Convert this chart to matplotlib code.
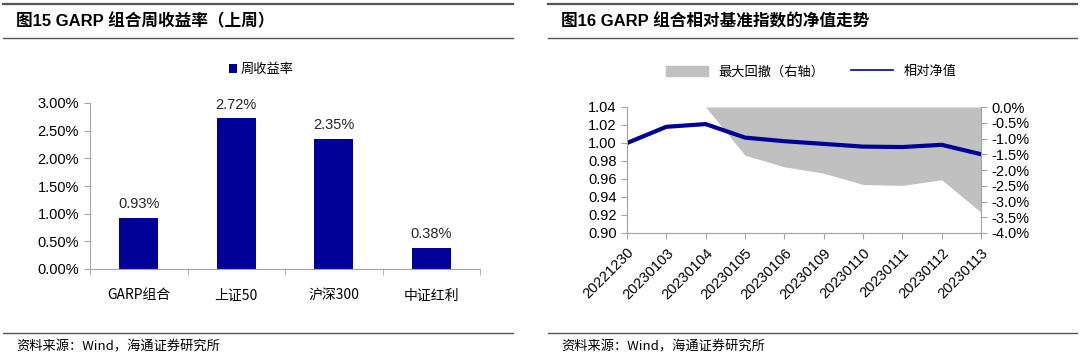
import numpy as np
import matplotlib
matplotlib.use('Agg')
from matplotlib import pyplot as plt
from matplotlib.lines import Line2D
from matplotlib.patches import Patch
from matplotlib.ticker import FuncFormatter

plt.rcParams['font.family'] = ['Liberation Sans', 'Noto Sans CJK SC', 'DejaVu Sans']
CJK = ['Noto Sans CJK SC', 'DejaVu Sans']

# left chart: weekly returns
bar_cats = ['GARP组合', '上证50', '沪深300', '中证红利']
bar_vals = [0.93, 2.72, 2.35, 0.38]

# right chart: relative NAV + max drawdown
dates = ['20221230', '20230103', '20230104', '20230105', '20230106',
         '20230109', '20230110', '20230111', '20230112', '20230113']
nav = [1.000, 1.018, 1.021, 1.006, 1.002, 0.999, 0.996, 0.9955, 0.998, 0.9875]
drawdown = [0.0, 0.0, 0.0, -1.53, -1.90, -2.10, -2.46, -2.49, -2.31, -3.34]

BLUE = '#000099'
GRAY = '#c0c0c0'
AX_GRAY = '#a6a6a6'

fig = plt.figure(figsize=(10.8, 3.6), dpi=100)


def frame(x0, x1, title):
    # header / footer rules and texts for one panel
    for y, lw in [(356 / 360, 1.6), (322 / 360, 1.0), (27 / 360, 1.0)]:
        fig.add_artist(Line2D([x0, x1], [y, y], color='#555555', lw=lw))
    fig.text(x0 + 0.012, 339 / 360, title, fontsize=12, fontweight='bold',
             va='center', ha='left', family=['Liberation Sans', 'Noto Sans CJK SC'])
    fig.text(x0 + 0.012, 13 / 360, '资料来源：Wind，海通证券研究所', fontsize=9.5,
             va='center', ha='left', family=CJK)


frame(3 / 1080, 513 / 1080, '图15 GARP 组合周收益率（上周）')
frame(548 / 1080, 1077 / 1080, '图16 GARP 组合相对基准指数的净值走势')

# ---- left: bar chart
ax1 = fig.add_axes([90 / 1080, 91 / 360, 390 / 1080, 166 / 360])
x = np.arange(len(bar_cats))
bars = ax1.bar(x, bar_vals, width=0.4, color=BLUE, label='周收益率')
for xi, v in zip(x, bar_vals):
    ax1.text(xi, v + 0.12, f'{v:.2f}%', ha='center', va='bottom', fontsize=10.5, color='#262626')
ax1.set_xlim(-0.5, len(bar_cats) - 0.5)
ax1.set_ylim(0, 3.0)
ax1.set_yticks(np.arange(0, 3.01, 0.5))
ax1.yaxis.set_major_formatter(FuncFormatter(lambda v, p: f'{v:.2f}%'))
ax1.set_xticks(x)
ax1.set_xticklabels(bar_cats, family=CJK)
ax1.set_xticks(np.arange(-0.5, len(bar_cats)), minor=True)
ax1.tick_params(axis='x', which='major', length=0, pad=14, labelsize=10)
ax1.tick_params(axis='x', which='minor', length=4, color=AX_GRAY)
ax1.tick_params(axis='y', length=4, color=AX_GRAY, labelsize=10.5, pad=4)
for s in ['top', 'right']:
    ax1.spines[s].set_visible(False)
for s in ['left', 'bottom']:
    ax1.spines[s].set_color(AX_GRAY)
leg1 = ax1.legend(loc='center', bbox_to_anchor=(0.44, 1.2), frameon=False,
                  handlelength=0.6, handleheight=0.6, handletextpad=0.3,
                  prop={'family': CJK, 'size': 9.5})

# ---- right: NAV line + drawdown area
ax2 = fig.add_axes([627 / 1080, 127 / 360, 354 / 1080, 126 / 360])
ax3 = ax2.twinx()
xi = np.arange(len(dates))
ax3.fill_between(xi, drawdown, 0, color=GRAY, lw=0)
ax3.set_ylim(-4.0, 0.0)
ax3.set_yticks(np.arange(-4.0, 0.01, 0.5))
ax3.yaxis.set_major_formatter(FuncFormatter(lambda v, p: f'{v:.1f}%'))
ax2.set_zorder(ax3.get_zorder() + 1)
ax2.patch.set_visible(False)
ax2.plot(xi, nav, color=BLUE, lw=3)
ax2.set_ylim(0.90, 1.04)
ax2.set_yticks(np.arange(0.90, 1.041, 0.02))
ax2.yaxis.set_major_formatter(FuncFormatter(lambda v, p: f'{v:.2f}'))
ax2.set_xlim(0, len(dates) - 1)
ax2.set_xticks(xi)
ax2.set_xticklabels(dates, rotation=45, ha='right', rotation_mode='anchor', fontsize=10.5)
ax2.tick_params(axis='x', length=4, color=AX_GRAY, pad=5)
ax2.tick_params(axis='y', length=4, color=AX_GRAY, labelsize=10.5)
ax3.tick_params(axis='y', length=4, color=AX_GRAY, labelsize=10.5)
for a in (ax2, ax3):
    a.spines['top'].set_visible(False)
    for s in ['left', 'right', 'bottom']:
        a.spines[s].set_color(AX_GRAY)
handles = [Patch(color=GRAY, label='最大回撤（右轴）'),
           Line2D([], [], color=BLUE, lw=1.2, label='相对净值')]
ax2.legend(handles=handles, loc='center', bbox_to_anchor=(0.52, 1.28), ncol=2,
           frameon=False, handlelength=3.2, handleheight=0.8, columnspacing=2.0,
           prop={'family': CJK, 'size': 9.5})

fig.savefig('out.png', dpi=100)
